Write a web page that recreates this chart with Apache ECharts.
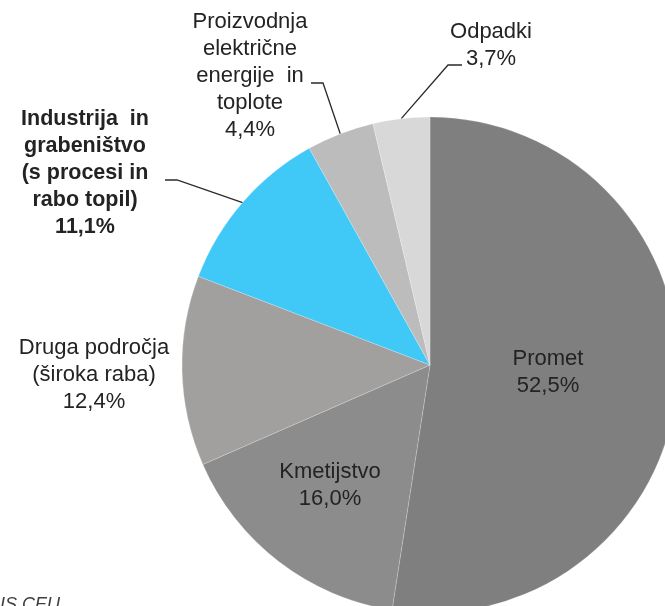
<!DOCTYPE html>
<html>
<head>
<meta charset="utf-8">
<script src="https://cdn.jsdelivr.net/npm/echarts@6/dist/echarts.min.js"></script>
<style>
  html, body { margin: 0; padding: 0; background: #ffffff; }
  #chart { width: 665px; height: 606px; }
</style>
</head>
<body>
<div id="chart"></div>
<script>
// Sectors, clockwise from 12 o'clock
const categories = [
  'Promet',
  'Kmetijstvo',
  'Druga področja\n(široka raba)',
  'Industrija  in\ngrabeništvo\n(s procesi in\nrabo topil)',
  'Proizvodnja\nelektrične\nenergije  in\ntoplote',
  'Odpadki'
];
const shares = [52.5, 16.0, 12.4, 11.1, 4.4, 3.7];
const sliceColors = ['#7f7f7f', '#8c8c8c', '#a29f9f', '#40c8f7', '#bcbcbc', '#d8d8d8'];
const sourceNote = 'IS CEU';

// Where each label block sits and how its leader line leaves it
const labelPlacement = [
  { x: 548, y: 372, inside: true },
  { x: 330, y: 485, inside: true },
  { x: 94, y: 375, line: false },
  { x: 85, y: 173, bold: true, line: [[177, 180], [165, 180]] },
  { x: 250, y: 76, line: [[323, 83], [311, 83]] },
  { x: 491, y: 45, line: [[448, 65], [462, 65]] }
];

const fmt = v => v.toFixed(1).replace('.', ',') + '%';

const data = categories.map((name, i) => {
  const p = labelPlacement[i];
  return {
    name: name,
    value: shares[i],
    itemStyle: { color: sliceColors[i] },
    label: {
      position: p.inside ? 'inside' : 'outside',
      fontWeight: p.bold ? 'bold' : 'normal',
      fontSize: p.bold ? 21.5 : 22
    },
    labelLine: { show: !!p.line, length: 10, length2: 10 }
  };
});

const chart = echarts.init(document.getElementById('chart'), null, { renderer: 'canvas' });
chart.setOption({
  backgroundColor: '#ffffff',
  animation: false,
  graphic: [{
    type: 'text',
    left: 0,
    top: 596,
    style: {
      text: sourceNote,
      fontFamily: 'Liberation Sans, Arial, sans-serif',
      fontSize: 18,
      fontStyle: 'italic',
      fill: '#404040'
    }
  }],
  series: [{
    type: 'pie',
    center: [430, 365],
    radius: 248,
    startAngle: 90,
    clockwise: true,
    avoidLabelOverlap: false,
    silent: true,
    itemStyle: { borderColor: 'rgba(255,255,255,0.35)', borderWidth: 0.6 },
    label: {
      show: true,
      color: '#232323',
      fontFamily: 'Liberation Sans, Arial, sans-serif',
      fontSize: 22,
      lineHeight: 27,
      align: 'center',
      formatter: p => p.name + '\n' + fmt(p.value)
    },
    labelLine: {
      lineStyle: { color: '#2a2a2a', width: 1.3 }
    },
    labelLayout: function (params) {
      const p = labelPlacement[params.dataIndex];
      const out = { x: p.x, y: p.y, align: 'center', verticalAlign: 'middle' };
      if (p.line && params.labelLinePoints) {
        const anchor = params.labelLinePoints[0];
        out.labelLinePoints = [anchor, p.line[0], p.line[1]];
      }
      return out;
    },
    data: data
  }]
});
</script>
</body>
</html>
